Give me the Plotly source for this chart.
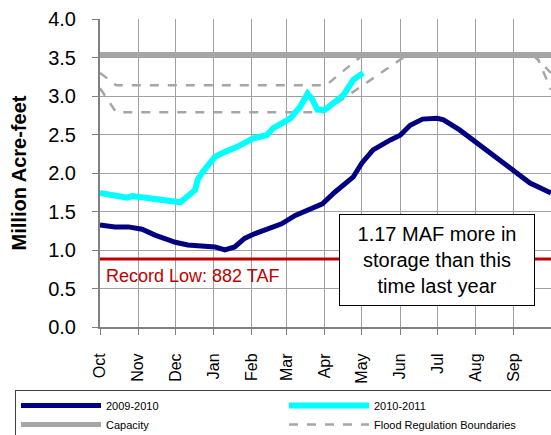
import plotly.graph_objects as go

# ---- data ----
month_labels = ["Oct", "Nov", "Dec", "Jan", "Feb", "Mar", "Apr", "May", "Jun", "Jul", "Aug", "Sep"]
month_days = [0, 31, 61, 92, 123, 151, 182, 212, 243, 273, 304, 335]

days_0910 = [0, 12, 23, 34, 45, 61, 71, 85, 93, 99, 101, 109, 117, 125, 134, 147, 158, 168, 180,
             190, 205, 212, 221, 235, 243, 251, 261, 273, 278, 291, 305, 321, 334, 348, 365]
vals_0910 = [1.325, 1.30, 1.30, 1.27, 1.19, 1.10, 1.065, 1.04, 1.04, 1.01, 1.00, 1.04, 1.15, 1.21,
             1.26, 1.34, 1.45, 1.52, 1.60, 1.75, 1.95, 2.13, 2.30, 2.43, 2.49, 2.62, 2.70, 2.71,
             2.69, 2.56, 2.39, 2.21, 2.04, 1.87, 1.74]

days_1011 = [0, 12, 22, 26, 42, 61, 65, 77, 79, 83, 93, 99, 111, 124, 135, 140, 154, 162, 168,
             172, 176, 182, 189, 197, 205, 213]
vals_1011 = [1.74, 1.71, 1.68, 1.70, 1.67, 1.62, 1.62, 1.78, 1.91, 2.01, 2.21, 2.26, 2.34, 2.45,
             2.49, 2.58, 2.71, 2.86, 3.03, 2.95, 2.82, 2.82, 2.91, 3.01, 3.21, 3.30]

capacity = 3.538
record_low = 0.882

flood_days = [0, 13, 183, 213, None, 350, 365, None, 0, 13, 181, 249, None, 353, 365]
flood_vals = [3.30, 3.14, 3.14, 3.538, None, 3.538, 3.30, None, 3.10, 2.79, 2.79, 3.538, None, 3.538, 3.08]

FONT = "Arial, Liberation Sans, sans-serif"

fig = go.Figure()
fig.add_trace(go.Scatter(x=[0, 365], y=[capacity, capacity], mode="lines", name="Capacity",
                         line=dict(color="#A6A6A6", width=5), legendrank=3))
fig.add_trace(go.Scatter(x=flood_days, y=flood_vals, mode="lines", name="Flood Regulation Boundaries",
                         line=dict(color="#A6A6A6", width=2.5, dash="dash"), legendrank=4,
                         connectgaps=False))
fig.add_trace(go.Scatter(x=[0, 365], y=[record_low, record_low], mode="lines", showlegend=False,
                         line=dict(color="#C00000", width=3)))
fig.add_trace(go.Scatter(x=days_0910, y=vals_0910, mode="lines", name="2009-2010",
                         line=dict(color="#000080", width=5), legendrank=1))
fig.add_trace(go.Scatter(x=days_1011, y=vals_1011, mode="lines", name="2010-2011",
                         line=dict(color="#00FFFF", width=6), legendrank=2))

fig.add_annotation(x=3, y=0.66, xref="x", yref="y", text="Record Low: 882 TAF", showarrow=False,
                   xanchor="left", yanchor="middle", font=dict(family=FONT, size=18, color="#C00000"))
fig.add_annotation(x=273, y=0.87, xref="x", yref="y",
                   text="1.17 MAF more in<br>storage than this<br>time last year",
                   showarrow=False, align="center", bgcolor="white", bordercolor="black",
                   borderwidth=1, borderpad=0, width=194, height=90,
                   font=dict(family=FONT, size=20, color="black"))

fig.update_layout(
    template="none",
    width=551, height=435,
    margin=dict(l=100, r=0, t=19, b=108, autoexpand=False),
    paper_bgcolor="white", plot_bgcolor="white",
    font=dict(family=FONT, color="black"),
    showlegend=True,
    legend=dict(orientation="h", x=-0.1885, xanchor="left", y=-0.2045, yanchor="top",
                bordercolor="#404040", borderwidth=1, bgcolor="white",
                font=dict(family=FONT, size=11, color="black"),
                itemwidth=80,
                entrywidth=173, entrywidthmode="pixels", tracegroupgap=0),
    xaxis=dict(range=[0, 365], tickvals=month_days, ticktext=month_labels, tickangle=-90,
               showgrid=True, gridcolor="#A0A0A0", gridwidth=1,
               showline=True, linecolor="#808080", linewidth=2,
               ticks="outside", ticklen=6, tickcolor="#808080", tickwidth=1,
               tickfont=dict(family=FONT, size=16, color="black"), ticklabelstandoff=12,
               zeroline=False, fixedrange=True, automargin=False),
    yaxis=dict(range=[0, 4], dtick=0.5, tickformat=".1f",
               showgrid=True, gridcolor="#A0A0A0", gridwidth=1,
               showline=True, linecolor="#808080", linewidth=2,
               ticks="outside", ticklen=6, tickcolor="#808080", tickwidth=1,
               tickfont=dict(family=FONT, size=20, color="black"), ticklabelstandoff=12,
               title=dict(text="<b>Million Acre-feet</b>", font=dict(family=FONT, size=20, color="black"),
                          standoff=16),
               zeroline=False, fixedrange=True, automargin=False),
)

fig.write_html("out.html", config={"displayModeBar": False},
               post_script="document.body.style.margin='0';document.body.style.overflow='hidden';")
